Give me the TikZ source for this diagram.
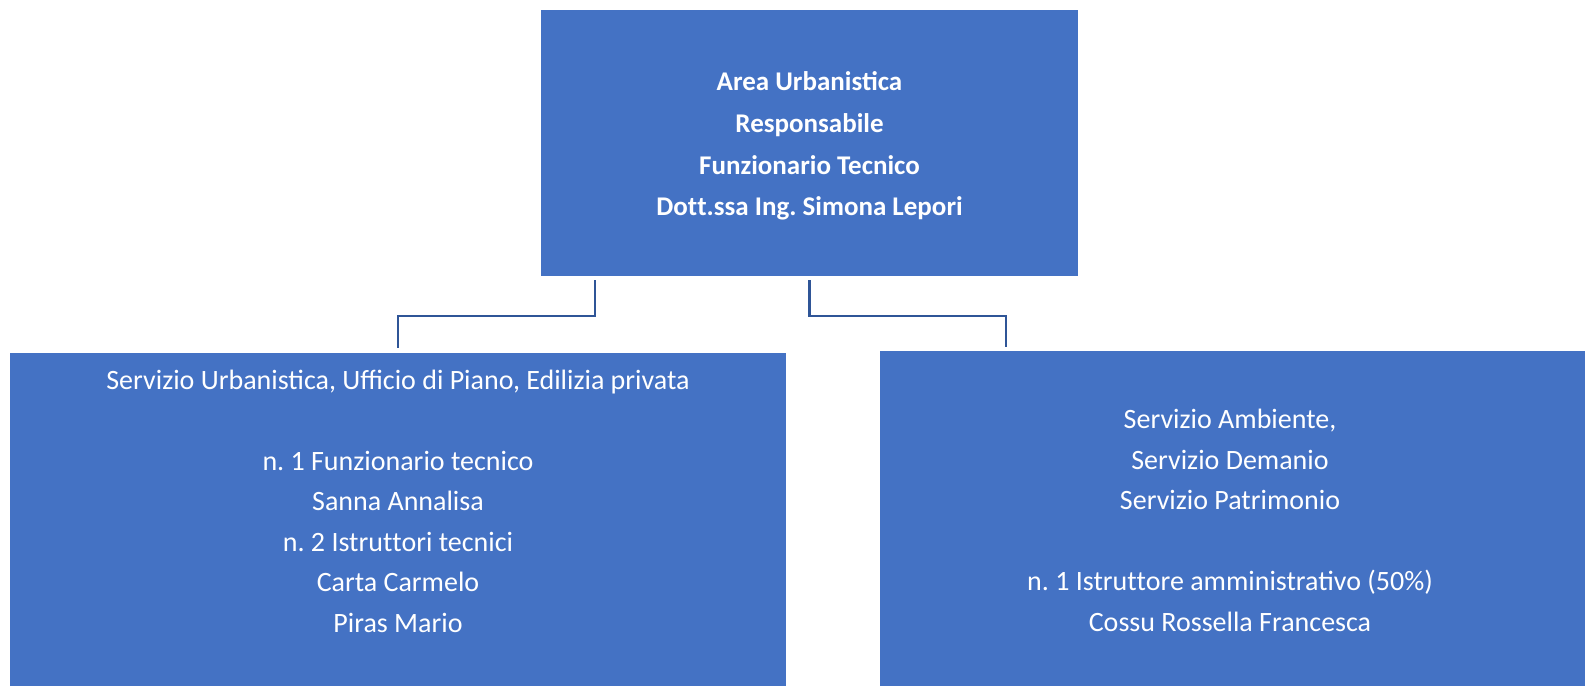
\documentclass[tikz,border=0pt]{standalone}
\usepackage{fontspec}
\setmainfont{Carlito}
\frenchspacing
\newcommand\tsep{t\kern0pt t}
\definecolor{boxblue}{HTML}{4472C4}
\definecolor{linkblue}{HTML}{2F5597}
\begin{document}
\begin{tikzpicture}[x=1pt,y=-1pt,
  box/.style={fill=boxblue, draw=none, inner sep=0pt, outer sep=0pt},
  txt/.style={text=white, align=center, inner sep=0pt, font=\fontsize{28}{40.5}\selectfont},
  toptxt/.style={text=white, align=center, inner sep=0pt, font=\bfseries\fontsize{27}{41.7}\selectfont},
  conn/.style={draw=linkblue, line width=2.2pt}]
\useasboundingbox (0,0) rectangle (1585,686);
\node[box, minimum width=537pt, minimum height=266pt] (top) at (809.5,143) {};
\node[toptxt] (toplabel) at (809.5,146) {Area Urbanistica\\Responsabile\\Funzionario Tecnico\\Do\tsep.ssa Ing. Simona Lepori};
\node[box, minimum width=776pt, minimum height=333pt] (left) at (398,519.5) {};
\node[txt] (leftlabel) at (398,501) {Servizio Urbanistica, Ufficio di Piano, Edilizia privata\\[40.5pt]n. 1 Funzionario tecnico\\Sanna Annalisa\\n. 2 Istru\tsep ori tecnici\\Carta Carmelo\\Piras Mario};
\node[box, minimum width=705pt, minimum height=335pt] (right) at (1232.5,518.5) {};
\node[txt] (rightlabel) at (1230,520.5) {Servizio Ambiente,\\Servizio Demanio\\Servizio Patrimonio\\[40.5pt]n. 1 Istru\tsep ore amministrativo (50\%)\\Cossu Rossella Francesca};
\draw[conn] ([xshift=54pt,yshift=-4pt]top.south west) |- ([yshift=37pt]left.north) -- ([yshift=5pt]left.north);
\draw[conn] ([yshift=-4pt]top.south) |- ([xshift=126pt,yshift=35pt]right.north west) -- ([xshift=126pt,yshift=4pt]right.north west);
\end{tikzpicture}
\end{document}
